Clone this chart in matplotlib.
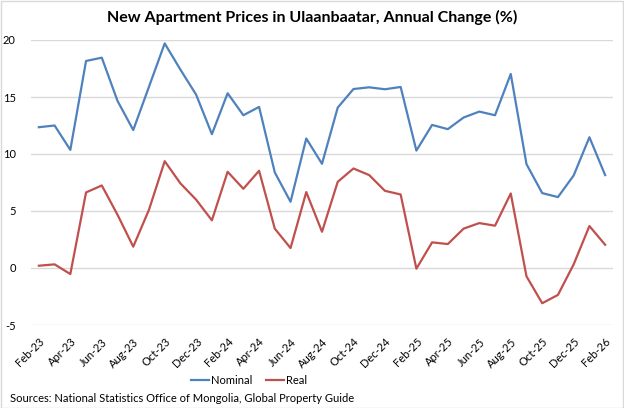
import matplotlib.pyplot as plt
import numpy as np

plt.rcParams['font.family'] = ['Lato', 'DejaVu Sans']

# months Feb-23 .. Feb-26
months = ['Feb-23', 'Mar-23', 'Apr-23', 'May-23', 'Jun-23', 'Jul-23', 'Aug-23', 'Sep-23',
          'Oct-23', 'Nov-23', 'Dec-23', 'Jan-24', 'Feb-24', 'Mar-24', 'Apr-24', 'May-24',
          'Jun-24', 'Jul-24', 'Aug-24', 'Sep-24', 'Oct-24', 'Nov-24', 'Dec-24', 'Jan-25',
          'Feb-25', 'Mar-25', 'Apr-25', 'May-25', 'Jun-25', 'Jul-25', 'Aug-25', 'Sep-25',
          'Oct-25', 'Nov-25', 'Dec-25', 'Jan-26', 'Feb-26']

nominal = [12.35, 12.5, 10.36, 18.16, 18.45, 14.66, 12.1, 15.9, 19.7, 17.4, 15.2, 11.74,
           15.33, 13.4, 14.13, 8.38, 5.81, 11.36, 9.14, 14.07, 15.7, 15.85, 15.68, 15.88,
           10.3, 12.55, 12.18, 13.2, 13.72, 13.4, 17.02, 9.11, 6.57, 6.22, 8.12, 11.47, 8.15]

real = [0.2, 0.32, -0.53, 6.63, 7.24, 4.67, 1.87, 5.11, 9.37, 7.42, 5.99, 4.18,
        8.44, 6.95, 8.53, 3.45, 1.75, 6.66, 3.18, 7.56, 8.73, 8.15, 6.77, 6.45,
        -0.06, 2.25, 2.1, 3.45, 3.94, 3.71, 6.54, -0.73, -3.09, -2.36, 0.32, 3.68, 2.04]

y_ticks = [-5, 0, 5, 10, 15, 20]

fig = plt.figure(figsize=(6.24, 4.08), dpi=100)
ax = fig.add_axes([31 / 624, 1 - 325 / 408, (613 - 31) / 624, (325 - 40) / 408])

x = np.arange(len(months))
ax.plot(x, nominal, color='#4F81BD', lw=1.6, label='Nominal')
ax.plot(x, real, color='#C0504D', lw=1.6, label='Real')

ax.set_xlim(-0.5, len(months) - 0.5)
ax.set_ylim(-5, 20)
ax.set_yticks(y_ticks)
ax.set_yticklabels([str(v) for v in y_ticks], fontsize=8)
ax.set_xticks(x[::2])
ax.set_xticklabels(months[::2], rotation=45, ha='right', va='top',
                   rotation_mode='anchor', fontsize=8)
ax.tick_params(axis='both', length=0)
ax.tick_params(axis='y', pad=11)
ax.tick_params(axis='x', pad=8)
ax.grid(axis='y', color='#d9d9d9', lw=1)
ax.set_axisbelow(True)
for s in ax.spines.values():
    s.set_visible(False)

fig.suptitle('New Apartment Prices in Ulaanbaatar, Annual Change (%)',
             x=0.5, y=1 - 17 / 408, va='center', fontsize=11.5, fontweight='bold')

fig.legend(loc='center', bbox_to_anchor=(249 / 624, 1 - 380 / 408), ncol=2,
           frameon=False, fontsize=8, handlelength=1.6, handletextpad=0.2,
           columnspacing=1.2)

fig.text(10 / 624, 1 - 398 / 408, 'Sources: National Statistics Office of Mongolia, Global Property Guide',
         fontsize=8, va='center', ha='left')

# light frame around the chart
fig.patches.append(plt.Rectangle((0.001, 0.001), 0.997, 0.996, transform=fig.transFigure,
                                 fill=False, edgecolor='#d9d9d9', lw=1))

fig.savefig('out.png', dpi=100)
